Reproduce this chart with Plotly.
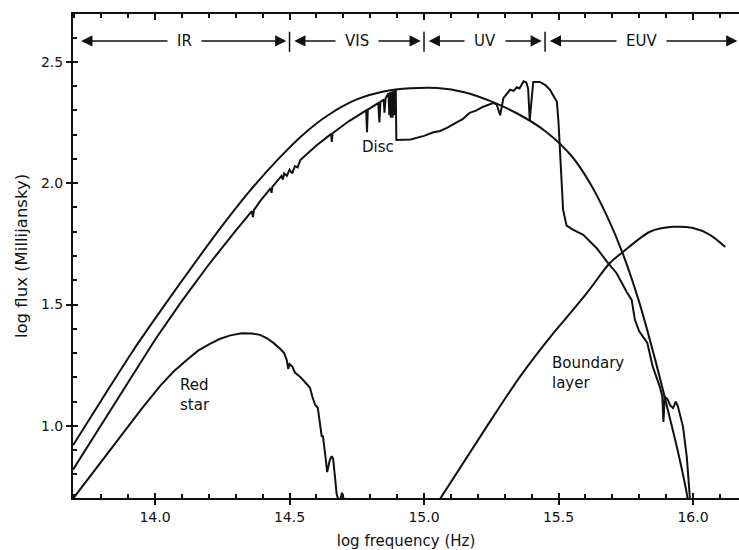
import plotly.graph_objects as go

# ---- spectral components: log frequency (Hz) vs log flux (mJy) ----

# smooth disc envelope (upper curve)
env_logf = [13.695, 13.80, 13.92, 14.05, 14.15, 14.25, 14.35, 14.45, 14.55, 14.65,
            14.75, 14.85, 14.95, 15.05, 15.15, 15.25, 15.35, 15.45, 15.55, 15.62,
            15.68, 15.74, 15.80, 15.86, 15.91, 15.95, 15.977, 15.985]
env_logflux = [0.92, 1.105, 1.313, 1.52, 1.675, 1.825, 1.965, 2.09, 2.20, 2.285,
               2.345, 2.378, 2.391, 2.392, 2.375, 2.337, 2.285, 2.215, 2.11, 1.995,
               1.865, 1.707, 1.51, 1.27, 1.05, 0.865, 0.72, 0.66]

# disc spectrum with absorption features
disc_logf = [13.695, 13.85, 14.0, 14.10, 14.20, 14.30, 14.36, 14.364, 14.368, 14.39,
             14.43, 14.433, 14.436, 14.47, 14.475, 14.48, 14.49, 14.50, 14.51, 14.52,
             14.53, 14.54, 14.60, 14.655, 14.657, 14.66, 14.72, 14.785, 14.788, 14.791,
             14.83, 14.834, 14.838, 14.85, 14.853, 14.857, 14.868, 14.871, 14.874, 14.877,
             14.880, 14.883, 14.886, 14.889, 14.892, 14.895, 14.897, 14.95, 15.0, 15.035,
             15.06, 15.085, 15.12, 15.145, 15.17, 15.195, 15.22, 15.24, 15.257, 15.27,
             15.283, 15.295, 15.31, 15.32, 15.333, 15.345, 15.355, 15.37, 15.38, 15.387,
             15.393, 15.397, 15.406, 15.43, 15.45, 15.468, 15.485, 15.494, 15.50, 15.508,
             15.517, 15.53, 15.555, 15.592, 15.617, 15.642, 15.68, 15.716, 15.753, 15.772,
             15.784, 15.80, 15.83, 15.85, 15.877, 15.886, 15.890, 15.895, 15.905, 15.915,
             15.926, 15.936, 15.944, 15.963, 15.977, 15.985, 15.99]
disc_logflux = [0.82, 1.09, 1.355, 1.515, 1.665, 1.805, 1.885, 1.86, 1.89, 1.925,
                1.98, 1.96, 1.985, 2.03, 2.015, 2.04, 2.03, 2.055, 2.04, 2.07,
                2.065, 2.095, 2.155, 2.203, 2.17, 2.206, 2.255, 2.30, 2.21, 2.303,
                2.33, 2.25, 2.335, 2.345, 2.29, 2.35, 2.37, 2.28, 2.375, 2.27,
                2.378, 2.27, 2.38, 2.28, 2.382, 2.38, 2.178, 2.18, 2.195, 2.21,
                2.215, 2.228, 2.25, 2.265, 2.29, 2.30, 2.315, 2.322, 2.33, 2.325,
                2.28, 2.35, 2.37, 2.385, 2.38, 2.395, 2.39, 2.42, 2.415, 2.39,
                2.26, 2.30, 2.417, 2.417, 2.405, 2.385, 2.355, 2.335, 2.25, 2.05,
                1.89, 1.825, 1.808, 1.787, 1.76, 1.732, 1.677, 1.629, 1.553, 1.519,
                1.437, 1.39, 1.342, 1.245, 1.16, 1.12, 1.016, 1.12, 1.11, 1.085,
                1.074, 1.10, 1.08, 0.996, 0.87, 0.72, 0.68]

# red (secondary) star
star_logf = [13.695, 13.85, 13.95, 14.019, 14.07, 14.118, 14.16, 14.204, 14.24, 14.28,
             14.322, 14.36, 14.39, 14.415, 14.44, 14.465, 14.48,
             14.49, 14.495, 14.50, 14.51, 14.52, 14.539, 14.558, 14.576, 14.585, 14.595,
             14.605, 14.612, 14.62, 14.624, 14.628, 14.635, 14.64, 14.65, 14.657, 14.662,
             14.668, 14.675, 14.68, 14.69, 14.695, 14.70, 14.71]
star_logflux = [0.70, 0.925, 1.07, 1.165, 1.225, 1.272, 1.31, 1.338, 1.358, 1.373,
                1.382, 1.381, 1.375, 1.362, 1.342, 1.318, 1.30,
                1.27, 1.235, 1.255, 1.245, 1.22, 1.203, 1.18, 1.157, 1.12, 1.087,
                1.075, 1.02, 0.955, 0.96, 0.93, 0.86, 0.81, 0.86, 0.875, 0.865,
                0.80, 0.72, 0.70, 0.70, 0.725, 0.70, 0.70]

# boundary layer
bl_logf = [15.06, 15.233, 15.357, 15.481, 15.506, 15.605, 15.69, 15.74, 15.84, 15.926,
           16.0, 16.063, 16.12]
bl_logflux = [0.70, 0.997, 1.203, 1.382, 1.415, 1.547, 1.67, 1.717, 1.80, 1.82,
              1.815, 1.787, 1.737]

# spectral regions across the top
band_names = ["IR", "VIS", "UV", "EUV"]
band_edges = [13.72, 14.5, 15.0, 15.45, 16.165]

# curve labels: text, log f, log flux, alignment
curve_labels = [
    ("Disc", 14.829, 2.148, "center"),
    ("Red<br>star", 14.086, 1.128, "left"),
    ("Boundary<br>layer", 15.468, 1.218, "left"),
]

x_ticks = [14.0, 14.5, 15.0, 15.5, 16.0]
y_ticks = [1.0, 1.5, 2.0, 2.5]
x_range = [13.695, 16.171]
y_range = [0.703, 2.697]

ink = "#111111"
font_family = "DejaVu Sans"

fig = go.Figure()

curves = [
    (env_logf, env_logflux, "spline"),
    (disc_logf, disc_logflux, "linear"),
    (star_logf, star_logflux, "linear"),
    (bl_logf, bl_logflux, "spline"),
]
for xs, ys, shape in curves:
    line = dict(color=ink, width=2, shape=shape)
    if shape == "spline":
        line["smoothing"] = 0.8
    fig.add_trace(go.Scatter(x=xs, y=ys, mode="lines", line=line,
                             hoverinfo="skip", showlegend=False))

# empty traces so the overlay axes (inner halves of major ticks, top frame) are built
fig.add_trace(go.Scatter(x=[None], y=[None], xaxis="x2", yaxis="y", showlegend=False))
fig.add_trace(go.Scatter(x=[None], y=[None], xaxis="x", yaxis="y2", showlegend=False))
fig.add_trace(go.Scatter(x=[None], y=[None], xaxis="x3", yaxis="y", showlegend=False))

minor_in = dict(ticks="inside", ticklen=4, tickwidth=1.5, tickcolor=ink,
                dtick=0.1, showgrid=False)

common = dict(showgrid=False, zeroline=False, tickcolor=ink, tickwidth=1.5)

fig.update_layout(
    width=739, height=550,
    margin=dict(l=73, r=0, t=14, b=52),
    paper_bgcolor="white", plot_bgcolor="white",
    showlegend=False,
    font=dict(family=font_family, size=14, color=ink),
    xaxis=dict(range=x_range, showline=True, linecolor=ink, linewidth=2,
               ticks="outside", ticklen=5, tickvals=x_ticks,
               ticktext=[f"{v:.1f}" for v in x_ticks],
               minor=dict(minor_in, tick0=14.0),
               tickfont=dict(size=14, family=font_family, color=ink),
               title=dict(text="log frequency (Hz)", standoff=12,
                          font=dict(size=15, family=font_family, color=ink)),
               **common),
    xaxis2=dict(range=x_range, overlaying="x", anchor="y", side="bottom",
                showline=False, ticks="inside", ticklen=5, tickvals=x_ticks,
                showticklabels=False, **common),
    xaxis3=dict(range=x_range, overlaying="x", anchor="y", side="top",
                showline=True, linecolor=ink, linewidth=2,
                ticks="inside", ticklen=6, tickvals=x_ticks,
                showticklabels=False, minor=dict(minor_in, tick0=14.0),
                **common),
    yaxis=dict(range=y_range, showline=True, linecolor=ink, linewidth=2,
               ticks="outside", ticklen=5, tickvals=y_ticks,
               ticktext=[f"{v:.1f}" for v in y_ticks],
               minor=dict(minor_in, tick0=1.0),
               tickfont=dict(size=14, family=font_family, color=ink),
               title=dict(text="log flux (Millijansky)", standoff=9,
                          font=dict(size=16.5, family=font_family, color=ink)),
               **common),
    yaxis2=dict(range=y_range, overlaying="y", anchor="x", side="left",
                showline=False, ticks="inside", ticklen=5, tickvals=y_ticks,
                showticklabels=False, **common),
)

# spectral-region bar: double-headed arrows between dividers, names on top
band_y = 2.586
div_lo, div_hi = 2.624, 2.541
gap = 0.012
for i, name in enumerate(band_names):
    lo, hi = band_edges[i], band_edges[i + 1]
    left = lo + (gap if i > 0 else 0)
    right = hi - (gap if i < len(band_names) - 1 else 0)
    fig.add_annotation(x=right, y=band_y, ax=left, ay=band_y, xref="x", yref="y",
                       axref="x", ayref="y", text="", showarrow=True,
                       arrowhead=2, arrowside="end+start", arrowsize=1.6,
                       arrowwidth=1.4, arrowcolor=ink, standoff=0, startstandoff=0)
for edge in band_edges[1:-1]:
    fig.add_shape(type="line", x0=edge, x1=edge, y0=div_lo, y1=div_hi,
                  xref="x", yref="y", line=dict(color=ink, width=1.5))
for i, name in enumerate(band_names):
    mid = (band_edges[i] + band_edges[i + 1]) / 2
    fig.add_annotation(x=mid, y=band_y, xref="x", yref="y", text=name,
                       showarrow=False, bgcolor="white", borderpad=9,
                       font=dict(size=15, family=font_family, color=ink))

for text, xv, yv, align in curve_labels:
    fig.add_annotation(x=xv, y=yv, xref="x", yref="y", text=text, showarrow=False,
                       xanchor=align, align=align,
                       font=dict(size=15, family=font_family, color=ink))

fig.write_html("out.html")
